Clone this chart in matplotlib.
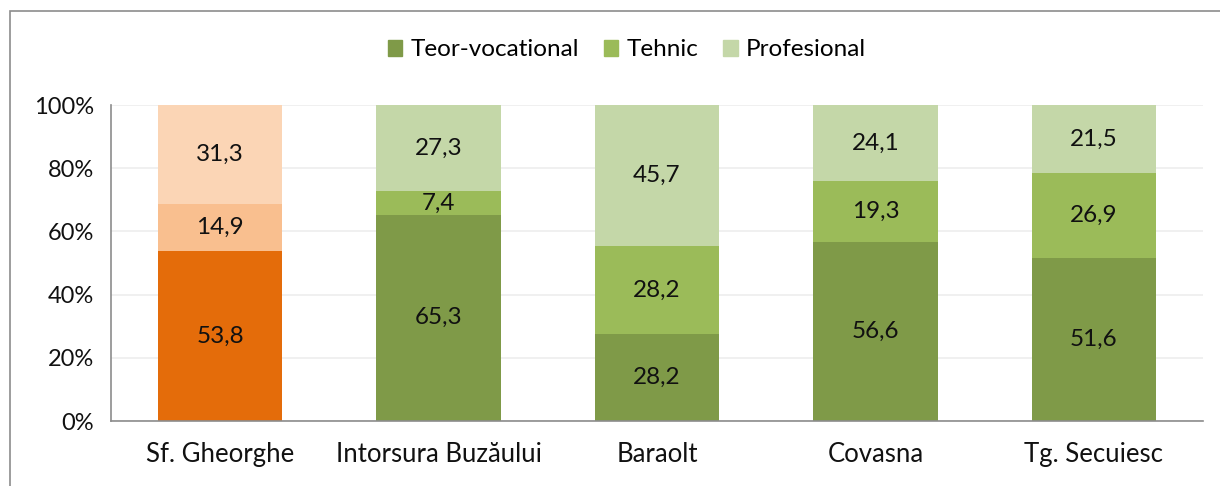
import numpy as np
import matplotlib.pyplot as plt
from matplotlib.patches import Rectangle

plt.rcParams['font.family'] = ['Lato', 'DejaVu Sans']

# Data
cities = ['Sf. Gheorghe', 'Intorsura Buzăului', 'Baraolt', 'Covasna', 'Tg. Secuiesc']
series = ['Teor-vocational', 'Tehnic', 'Profesional']
teor = [53.8, 65.3, 28.2, 56.6, 51.6]
tehnic = [14.9, 7.4, 28.2, 19.3, 26.9]
profesional = [31.3, 27.3, 45.7, 24.1, 21.5]

green_colors = ['#7F9A48', '#9BBB59', '#C4D7A8']
orange_colors = ['#E46C0A', '#F9BF8F', '#FBD5B5']

fig = plt.figure(figsize=(12.2, 4.86), dpi=100)
ax = fig.add_axes([111 / 1220, 1 - 421 / 486, (1203 - 111) / 1220, (421 - 105) / 486])

# chart border, like the spreadsheet chart area
fig.patches.append(Rectangle((10 / 1220, -0.1), 1.2, 1 - 11 / 486 + 0.1,
                             transform=fig.transFigure, fill=False,
                             edgecolor='#8C8C8C', linewidth=1.2))

vals = np.array([teor, tehnic, profesional])
totals = vals.sum(axis=0)
shares = vals / totals * 100
x = np.arange(len(cities))
width = 0.57

bottom = np.zeros(len(cities))
handles = []
for i, name in enumerate(series):
    colors = [orange_colors[i] if j == 0 else green_colors[i] for j in range(len(cities))]
    bars = ax.bar(x, shares[i], width, bottom=bottom, color=colors, zorder=2)
    handles.append(Rectangle((0, 0), 1, 1, color=green_colors[i]))
    for j in range(len(cities)):
        ax.text(x[j], bottom[j] + shares[i][j] / 2, f'{vals[i][j]:.1f}'.replace('.', ','),
                ha='center', va='center', fontsize=17.5, color='#111111', zorder=3)
    bottom += shares[i]

ax.set_xlim(-0.5, len(cities) - 0.5)
ax.set_ylim(0, 100)
ax.set_yticks(range(0, 101, 20))
ax.set_yticklabels([f'{v}%' for v in range(0, 101, 20)], fontsize=17)
ax.set_xticks(x)
ax.set_xticklabels(cities, fontsize=18.5)
ax.tick_params(axis='both', length=0, pad=12, colors='#111111')
ax.tick_params(axis='x', pad=15)
ax.yaxis.grid(True, color='#EDEDED', linewidth=1.2, zorder=0)
ax.set_axisbelow(True)
for s in ['top', 'right']:
    ax.spines[s].set_visible(False)
for s in ['left', 'bottom']:
    ax.spines[s].set_color('#8C8C8C')
    ax.spines[s].set_linewidth(1.2)

fig.legend(handles, series, loc='center', bbox_to_anchor=(627 / 1220, 1 - 50 / 486),
           ncol=3, frameon=False, fontsize=17.5, handlelength=0.6, handleheight=0.6,
           handletextpad=0.35, columnspacing=1.0)

fig.savefig('out.png', dpi=100)
